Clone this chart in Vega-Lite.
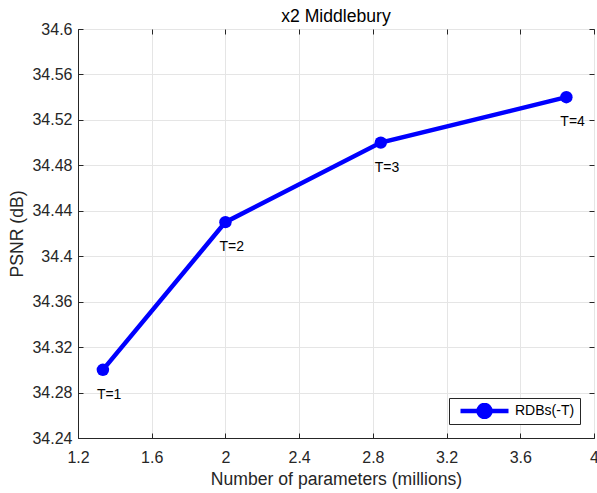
{
  "$schema": "https://vega.github.io/schema/vega-lite/v6.json",
  "width": 516,
  "height": 409,
  "autosize": {"type": "none"},
  "padding": {"left": 78, "top": 29, "right": 3, "bottom": 55},
  "background": "white",
  "title": {"text": "x2 Middlebury", "fontSize": 17.6, "fontWeight": "normal", "font": "Liberation Sans", "color": "#000000", "offset": 0, "dy": 5},
  "data": {"values": [
    {"params": 1.335, "psnr": 34.30, "label": "T=1", "series": "RDBs(-T)"},
    {"params": 2.0, "psnr": 34.43, "label": "T=2", "series": "RDBs(-T)"},
    {"params": 2.843, "psnr": 34.50, "label": "T=3", "series": "RDBs(-T)"},
    {"params": 3.85, "psnr": 34.54, "label": "T=4", "series": "RDBs(-T)"}
  ]},
  "config": {
    "font": "Liberation Sans",
    "view": {"stroke": "#262626", "strokeWidth": 1},
    "axis": {
      "labelFont": "Liberation Sans", "titleFont": "Liberation Sans",
      "labelFontSize": 16, "titleFontSize": 17.6, "titleFontWeight": "normal",
      "labelColor": "#262626", "titleColor": "#262626",
      "domainColor": "#262626", "tickColor": "#262626", "domainWidth": 1, "tickWidth": 1,
      "gridColor": "#e5e5e5", "gridWidth": 1, "tickSize": -5, "labelFlush": false, "labelOverlap": false
    }
  },
  "layer": [
    {
      "mark": {"type": "line", "strokeWidth": 4.5, "color": "#0000ff"},
      "encoding": {
        "x": {"field": "params", "type": "quantitative", "scale": {"domain": [1.2, 4], "nice": false, "zero": false}, "axis": {"orient": "bottom", "title": "Number of parameters (millions)", "values": [1.2, 1.6, 2, 2.4, 2.8, 3.2, 3.6, 4], "labelExpr": "format(datum.value, '.1~f')", "labelPadding": 16, "titlePadding": 5, "grid": true}},
        "y": {"field": "psnr", "type": "quantitative", "scale": {"domain": [34.24, 34.6], "nice": false, "zero": false}, "axis": {"orient": "left", "title": "PSNR (dB)", "values": [34.24, 34.28, 34.32, 34.36, 34.4, 34.44, 34.48, 34.52, 34.56, 34.6], "labelExpr": "format(datum.value, '.2~f')", "labelPadding": 11, "titlePadding": 5, "grid": true}},
        "color": {"field": "series", "type": "nominal", "scale": {"range": ["#0000ff"]},
          "legend": {"title": null, "orient": "bottom-right", "offset": 14, "strokeColor": "#262626", "fillColor": "white", "padding": 5,
            "symbolType": "M-1,0L1,0M0.25,0A0.25,0.25,0,1,1,-0.25,0A0.25,0.25,0,1,1,0.25,0",
            "symbolSize": 2304, "symbolStrokeWidth": 4.5, "symbolFillColor": "#0000ff", "symbolStrokeColor": "#0000ff",
            "symbolOffset": 4, "clipHeight": 16,
            "labelFontSize": 14, "labelColor": "#000000", "labelFont": "Liberation Sans", "labelOffset": 4}}
      }
    },
    {
      "mark": {"type": "point", "filled": true, "size": 155, "color": "#0000ff", "opacity": 1},
      "encoding": {
        "x": {"field": "params", "type": "quantitative", "axis": {"orient": "top", "title": null, "labels": false, "grid": false, "domain": false, "values": [1.2, 1.6, 2, 2.4, 2.8, 3.2, 3.6, 4]}},
        "y": {"field": "psnr", "type": "quantitative", "axis": {"orient": "right", "title": null, "labels": false, "grid": false, "domain": false, "values": [34.24, 34.28, 34.32, 34.36, 34.4, 34.44, 34.48, 34.52, 34.56, 34.6]}}
      }
    },
    {
      "mark": {"type": "text", "align": "left", "baseline": "alphabetic", "dx": -6, "dy": 29, "fontSize": 14, "font": "Liberation Sans", "color": "#000000"},
      "encoding": {
        "x": {"field": "params", "type": "quantitative", "axis": null},
        "y": {"field": "psnr", "type": "quantitative", "axis": null},
        "text": {"field": "label"}
      }
    }
  ]
}
